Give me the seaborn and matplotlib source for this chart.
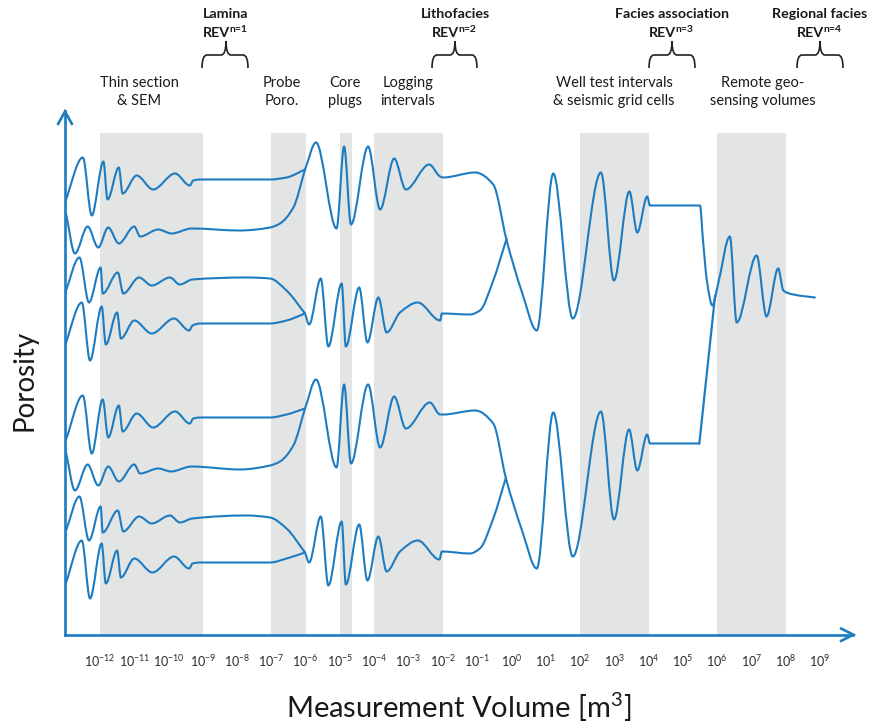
import matplotlib
matplotlib.use("Agg")
import matplotlib.pyplot as plt
from matplotlib.path import Path
from matplotlib.patches import PathPatch
import numpy as np
import pandas as pd
import seaborn as sns

# ---------------------------------------------------------------------------
# Data: x = log10(measurement volume / m^3), y = porosity (arbitrary units)
# ---------------------------------------------------------------------------
decades = list(range(-12, 10))

band_starts = [-12.0, -7.0, -5.0, -4.0, 2.0, 6.0]
band_ends = [-9.0, -6.0, -4.65, -2.0, 4.0, 8.0]

# upper diagram: four small-scale curves that pair up at 1e-6 m^3
upper_a = [(-13.02, 432), (-12.50, 477), (-12.24, 419), (-11.90, 473), (-11.78, 435),
           (-11.45, 467), (-11.34, 441), (-10.93, 459), (-10.45, 445), (-9.81, 461),
           (-9.38, 449), (-9.28, 454), (-9.08, 455), (-7.04, 455), (-6.56, 457), (-6.02, 465)]
upper_b = [(-12.99, 421), (-12.73, 381), (-12.36, 408), (-12.05, 387), (-11.76, 407),
           (-11.45, 391), (-11.00, 408), (-10.83, 398), (-10.30, 405), (-9.91, 401),
           (-9.33, 406), (-7.92, 404), (-7.04, 407), (-6.75, 411), (-6.36, 427), (-6.02, 465)]
upper_c = [(-13.02, 341), (-12.60, 377), (-12.32, 332), (-11.98, 367), (-11.92, 341),
           (-11.48, 362), (-11.32, 341), (-10.86, 357), (-10.49, 349), (-9.96, 357),
           (-9.67, 350), (-9.31, 355), (-7.72, 357), (-7.04, 356), (-6.56, 344), (-6.02, 321)]
upper_d = [(-13.02, 289), (-12.53, 332), (-12.29, 274), (-11.95, 328), (-11.83, 290),
           (-11.50, 322), (-11.39, 296), (-11.00, 314), (-10.49, 301), (-9.84, 316),
           (-9.40, 304), (-9.30, 309), (-9.08, 311), (-7.04, 311), (-6.56, 314), (-6.02, 321)]
upper_high = [(-6.02, 465), (-5.70, 492), (-5.10, 406), (-4.88, 488), (-4.68, 410),
              (-4.18, 488), (-3.83, 425), (-3.42, 476), (-3.08, 445), (-2.40, 470),
              (-2.08, 458), (-1.99, 457), (-1.06, 462), (-0.53, 450), (-0.14, 394),
              (0.31, 342), (0.74, 304), (1.22, 461), (1.79, 316), (2.61, 462),
              (2.99, 354), (3.44, 443), (3.67, 402), (3.96, 438), (4.04, 429),
              (5.50, 429), (5.58, 397), (5.70, 354), (5.86, 329), (6.03, 351),
              (6.37, 398), (6.57, 312), (7.15, 379), (7.44, 318), (7.78, 366),
              (7.93, 344), (8.22, 340), (8.85, 337)]
upper_low = [(-6.02, 321), (-5.90, 310), (-5.56, 356), (-5.34, 288), (-4.95, 351),
             (-4.83, 288), (-4.44, 347), (-4.20, 292), (-3.88, 337), (-3.64, 302),
             (-3.25, 322), (-2.73, 332), (-2.08, 314), (-2.03, 321), (-1.21, 320),
             (-0.92, 324), (-0.53, 354), (-0.14, 396)]

# lower diagram
lower_a = [(-12.99, 195), (-12.50, 239), (-12.24, 181), (-11.92, 235), (-11.76, 197),
           (-11.45, 229), (-11.34, 203), (-10.93, 221), (-10.45, 207), (-9.81, 223),
           (-9.38, 211), (-9.28, 216), (-9.08, 217), (-7.04, 217), (-6.56, 220), (-6.02, 226)]
lower_b = [(-12.99, 182), (-12.73, 144), (-12.36, 170), (-12.05, 149), (-11.76, 168),
           (-11.45, 153), (-11.00, 170), (-10.83, 161), (-10.30, 166), (-9.93, 163),
           (-9.33, 168), (-7.92, 165), (-7.04, 169), (-6.75, 173), (-6.36, 189), (-6.02, 226)]
lower_c = [(-12.99, 104), (-12.60, 138), (-12.32, 94), (-11.98, 128), (-11.92, 102),
           (-11.48, 124), (-11.32, 103), (-10.86, 118), (-10.49, 111), (-9.96, 119),
           (-9.67, 112), (-9.31, 116), (-7.72, 119), (-7.04, 117), (-6.56, 106), (-6.02, 82)]
lower_d = [(-12.99, 52), (-12.53, 94), (-12.29, 36), (-11.95, 91), (-11.83, 51),
           (-11.50, 84), (-11.39, 57), (-11.00, 76), (-10.47, 62), (-9.84, 78),
           (-9.40, 66), (-9.30, 71), (-9.08, 72), (-7.04, 72), (-6.56, 76), (-6.02, 82)]
lower_high = [(-6.02, 226), (-5.70, 255), (-5.10, 167), (-4.88, 250), (-4.68, 171),
              (-4.18, 250), (-3.83, 187), (-3.42, 238), (-3.08, 206), (-2.38, 232),
              (-2.08, 220), (-1.99, 220), (-1.06, 224), (-0.53, 211), (-0.16, 156),
              (0.31, 104), (0.74, 66), (1.22, 222), (1.79, 78), (2.61, 223),
              (2.99, 115), (3.43, 205), (3.67, 164), (3.96, 200), (4.04, 191), (5.48, 191)]
lower_low = [(-6.02, 82), (-5.90, 72), (-5.56, 118), (-5.34, 49), (-4.95, 113),
             (-4.83, 50), (-4.44, 110), (-4.20, 54), (-3.88, 98), (-3.64, 63),
             (-3.25, 83), (-2.73, 94), (-2.10, 75), (-2.03, 83), (-1.21, 81),
             (-0.92, 86), (-0.53, 116), (-0.16, 157)]

# straight link from the lower diagram up into the regional-scale curve
link_logv = [5.48, 5.94]
link_phi = [191, 339]

# annotations along the top
method_labels = [("Thin section", "& SEM"), ("Probe", "Poro."), ("Core", "plugs"),
                 ("Logging", "intervals"), ("Well test intervals", "& seismic grid cells"),
                 ("Remote geo-", "sensing volumes")]
method_centres = [139, 282, 345, 408, 614, 763]
rev_titles = ["Lamina", "Lithofacies", "Facies association", "Regional facies"]
rev_orders = [1, 2, 3, 4]
brace_spans = [(202, 248, 226), (432, 477, 455), (649, 695, 672), (797, 843, 820)]

# ---------------------------------------------------------------------------
BLUE = "#1d7cc1"
GREY = "#e3e4e4"
TEXT = "#1a1a1a"

sns.set_style("white")
plt.rcParams["font.family"] = ["Lato", "DejaVu Sans"]
plt.rcParams["mathtext.fontset"] = "custom"
plt.rcParams["mathtext.rm"] = "Lato"
plt.rcParams["mathtext.it"] = "Lato:italic"
plt.rcParams["mathtext.bf"] = "Lato:bold"

W, H = 872, 726
fig = plt.figure(figsize=(W / 100, H / 100), dpi=100)

ax_left, ax_right, ax_bottom, ax_top = 65, 853.3, 634.5, 111
ax = fig.add_axes([ax_left / W, 1 - ax_bottom / H, (ax_right - ax_left) / W,
                   (ax_bottom - ax_top) / H])
ax.set_xlim(-13.02, 9.97)
ax.set_ylim(0, ax_bottom - ax_top)


def smooth_path(points):
    """Monotone cubic (Fritsch-Carlson) curve through the points, as Bezier segments."""
    x = np.array([p[0] for p in points], dtype=float)
    y = np.array([p[1] for p in points], dtype=float)
    h = np.diff(x)
    d = np.diff(y) / h
    n = len(x)
    m = np.zeros(n)
    m[0], m[-1] = d[0], d[-1]
    for k in range(1, n - 1):
        if d[k - 1] * d[k] > 0:
            w1 = 2 * h[k] + h[k - 1]
            w2 = h[k] + 2 * h[k - 1]
            m[k] = (w1 + w2) / (w1 / d[k - 1] + w2 / d[k])
    verts = [(x[0], y[0])]
    codes = [Path.MOVETO]
    for k in range(n - 1):
        verts += [(x[k] + h[k] / 3, y[k] + m[k] * h[k] / 3),
                  (x[k + 1] - h[k] / 3, y[k + 1] - m[k + 1] * h[k] / 3),
                  (x[k + 1], y[k + 1])]
        codes += [Path.CURVE4] * 3
    return Path(verts, codes)


# measurement windows
band_top = (ax_bottom - 133) / (ax_bottom - ax_top)
for s, e in zip(band_starts, band_ends):
    ax.axvspan(s, e, ymin=0, ymax=band_top, color=GREY, lw=0, zorder=0)

curves = [upper_a, upper_b, upper_c, upper_d, upper_high, upper_low,
          lower_a, lower_b, lower_c, lower_d, lower_high, lower_low]
for pts in curves:
    ax.add_patch(PathPatch(smooth_path(pts), fill=False, edgecolor=BLUE, lw=1.5,
                           capstyle="round", joinstyle="round", zorder=3))

link = pd.DataFrame({"logv": link_logv, "phi": link_phi})
sns.lineplot(data=link, x="logv", y="phi", ax=ax, color=BLUE, lw=1.6, zorder=3)

# axes styling
for side in ["top", "right"]:
    ax.spines[side].set_visible(False)
for side in ["left", "bottom"]:
    ax.spines[side].set_color(BLUE)
    ax.spines[side].set_linewidth(1.9)
    ax.spines[side].set_zorder(4)
ax.set_yticks([])
ax.set_xticks(decades)
ax.set_xticklabels([r"$\mathregular{10^{%d}}$" % d for d in decades])
ax.tick_params(axis="x", direction="out", length=8.6, width=1.2, color=BLUE,
               pad=5, labelsize=9, labelcolor="#2a2a2a")
ax.set_xlabel("")
ax.set_ylabel("")
ax.grid(False)

# overlay in pixel coordinates for titles, braces and arrows
ov = fig.add_axes([0, 0, 1, 1], zorder=5)
ov.set_xlim(0, W)
ov.set_ylim(H, 0)
ov.axis("off")
ov.patch.set_alpha(0)

ov.plot([57.5, 65, 72.5], [125, 111.5, 125], color=BLUE, lw=1.9,
        solid_joinstyle="miter", solid_capstyle="butt")
ov.plot([840, 853.3, 840], [628, 634.7, 641.5], color=BLUE, lw=1.9,
        solid_joinstyle="miter", solid_capstyle="butt")

for (l1, l2), xc in zip(method_labels, method_centres):
    ov.text(xc, 87, l1, ha="center", va="baseline", fontsize=10.5, color=TEXT)
    ov.text(xc, 105, l2, ha="center", va="baseline", fontsize=10.5, color=TEXT)


def brace_path(xl, xr, xc, y_end=68, y_bar=55, y_tip=41, r=5):
    verts = [(xl, y_end), (xl, y_bar), (xl + r, y_bar), (xc - r, y_bar), (xc, y_bar),
             (xc, y_tip), (xc, y_bar), (xc + r, y_bar), (xr - r, y_bar), (xr, y_bar),
             (xr, y_end)]
    codes = [Path.MOVETO, Path.CURVE3, Path.CURVE3, Path.LINETO, Path.CURVE3,
             Path.CURVE3, Path.CURVE3, Path.CURVE3, Path.LINETO, Path.CURVE3,
             Path.CURVE3]
    return Path(verts, codes)


for title, order, (xl, xr, xc) in zip(rev_titles, rev_orders, brace_spans):
    ov.add_patch(PathPatch(brace_path(xl, xr, xc), fill=False, edgecolor="#222222", lw=1.2))
    ov.text(xc, 17.5, title, ha="center", va="baseline", fontsize=10.3,
            fontweight="bold", color=TEXT)
    ov.text(xc + 4, 37, "REV", ha="right", va="baseline", fontsize=10.3,
            fontweight="bold", color=TEXT)
    ov.text(xc + 3.5, 31.5, "n=%d" % order, ha="left", va="baseline", fontsize=7.5,
            fontweight="bold", color=TEXT)

ov.text(459, 707, r"Measurement Volume [m$\mathregular{^3}$]", ha="center", va="center",
        fontsize=21, color=TEXT)
ov.text(25, 380, "Porosity", ha="center", va="center", rotation=90, fontsize=20, color=TEXT)

fig.savefig("out.png", dpi=100)
